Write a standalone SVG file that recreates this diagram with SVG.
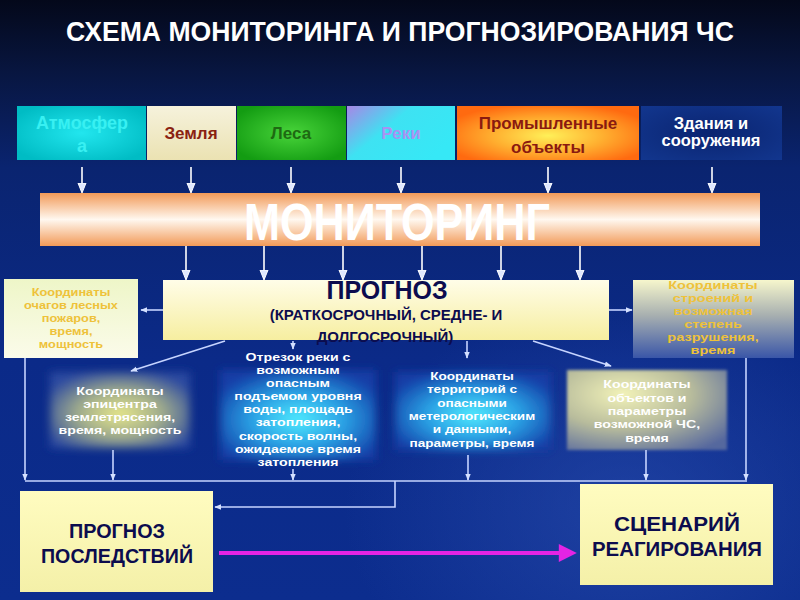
<svg xmlns="http://www.w3.org/2000/svg" width="800" height="600" viewBox="0 0 800 600">
<defs>
<linearGradient id="bg" x1="0" y1="0" x2="0" y2="1">
 <stop offset="0" stop-color="#04081a"/>
 <stop offset="0.12" stop-color="#081640"/>
 <stop offset="0.28" stop-color="#0a2470"/>
 <stop offset="0.6" stop-color="#0b2a88"/>
 <stop offset="1" stop-color="#0c2d8e"/>
</linearGradient>
<radialGradient id="bgglow" cx="0.78" cy="0.85" r="0.35">
 <stop offset="0" stop-color="#2a4eb0" stop-opacity="0.6"/>
 <stop offset="1" stop-color="#2a4eb0" stop-opacity="0"/>
</radialGradient>
<radialGradient id="gAtm" cx="0.5" cy="0.5" r="0.6">
 <stop offset="0" stop-color="#22e6ee"/>
 <stop offset="1" stop-color="#00bcc4"/>
</radialGradient>
<linearGradient id="gEarth" x1="0" y1="0" x2="0" y2="1">
 <stop offset="0" stop-color="#f6f2dc"/>
 <stop offset="1" stop-color="#ebe2b2"/>
</linearGradient>
<radialGradient id="gForest" cx="0.5" cy="0.5" r="0.6">
 <stop offset="0" stop-color="#48d43a"/>
 <stop offset="1" stop-color="#139c12"/>
</radialGradient>
<linearGradient id="gRiver" x1="0" y1="0" x2="1" y2="0.6">
 <stop offset="0" stop-color="#a886e6"/>
 <stop offset="0.45" stop-color="#3ee2f2"/>
 <stop offset="1" stop-color="#36e8f6"/>
</linearGradient>
<radialGradient id="gInd" cx="0.5" cy="0.55" r="0.6">
 <stop offset="0" stop-color="#fff058"/>
 <stop offset="0.5" stop-color="#ffb030"/>
 <stop offset="1" stop-color="#ff6a10"/>
</radialGradient>
<radialGradient id="gBld" cx="0.5" cy="0.5" r="0.7">
 <stop offset="0" stop-color="#0a2470"/>
 <stop offset="1" stop-color="#12368e"/>
</radialGradient>
<linearGradient id="gMon" x1="0" y1="0" x2="0" y2="1">
 <stop offset="0" stop-color="#f29a58"/>
 <stop offset="0.5" stop-color="#fff8f0"/>
 <stop offset="1" stop-color="#f29a58"/>
</linearGradient>
<linearGradient id="gProg" x1="0" y1="0" x2="0" y2="1">
 <stop offset="0" stop-color="#fffde8"/>
 <stop offset="1" stop-color="#f6eea0"/>
</linearGradient>
<linearGradient id="gLeft" x1="0" y1="0" x2="0" y2="1">
 <stop offset="0" stop-color="#eef6c8"/>
 <stop offset="1" stop-color="#fbfbea"/>
</linearGradient>
<linearGradient id="gRight" x1="0" y1="0" x2="0" y2="1">
 <stop offset="0" stop-color="#f6f6cc"/>
 <stop offset="0.45" stop-color="#a8b0b0"/>
 <stop offset="1" stop-color="#3a56a8"/>
</linearGradient>
<radialGradient id="gEpi" cx="0.5" cy="0.55" r="0.6">
 <stop offset="0" stop-color="#e8e88a"/>
 <stop offset="0.5" stop-color="#a0ac8c"/>
 <stop offset="1" stop-color="#2a48a0"/>
</radialGradient>
<radialGradient id="gCyan" cx="0.5" cy="0.55" r="0.6">
 <stop offset="0" stop-color="#50ecff"/>
 <stop offset="0.5" stop-color="#2aa0e4"/>
 <stop offset="1" stop-color="#123ca6"/>
</radialGradient>
<radialGradient id="gObj" cx="0.35" cy="0.3" r="0.85">
 <stop offset="0" stop-color="#f2f2b8"/>
 <stop offset="0.5" stop-color="#b8bc9c"/>
 <stop offset="1" stop-color="#55679e"/>
</radialGradient>
<linearGradient id="gBot" x1="0" y1="0" x2="0" y2="1">
 <stop offset="0" stop-color="#fffcc0"/>
 <stop offset="1" stop-color="#f4f0a8"/>
</linearGradient>
<filter id="soft" x="-20%" y="-20%" width="140%" height="140%"><feGaussianBlur stdDeviation="4"/></filter>
<filter id="soft2" x="-10%" y="-10%" width="120%" height="120%"><feGaussianBlur stdDeviation="1.5"/></filter>
<marker id="ahw" viewBox="0 0 10 10" refX="9" refY="5" markerWidth="10" markerHeight="10" orient="auto" markerUnits="userSpaceOnUse">
 <path d="M0,1 L10,5 L0,9 z" fill="#dfe8ff" stroke="#ffffff" stroke-width="1"/>
</marker>
<marker id="ah" viewBox="0 0 10 10" refX="9" refY="5" markerWidth="7" markerHeight="7" orient="auto" markerUnits="userSpaceOnUse">
 <path d="M0,1 L10,5 L0,9 z" fill="#d4e0ff"/>
</marker>
<marker id="ahm" viewBox="0 0 10 10" refX="9" refY="5" markerWidth="20" markerHeight="18" orient="auto" markerUnits="userSpaceOnUse">
 <path d="M0,0 L10,5 L0,10 z" fill="#e424e4"/>
</marker>
<style>
 .t{font-family:"Liberation Sans",Arial,sans-serif;font-weight:bold;text-anchor:middle}
 .n{font-family:"Liberation Sans Narrow","Liberation Sans",Arial,sans-serif;font-weight:bold;text-anchor:middle}
 .wl{stroke:#ffffff;stroke-width:1.6;fill:none}
 .cl{stroke:#c6d4ff;stroke-width:1.6;fill:none}
 .gold{fill:#eec23a;font-size:11.6px}
 .wh{fill:#ffffff;font-size:11.8px}
 .navy{fill:#0c0c4e}
</style>
</defs>

<rect x="0" y="0" width="800" height="600" fill="url(#bg)"/>
<rect x="0" y="0" width="800" height="600" fill="url(#bgglow)"/>

<text class="n" x="400" y="41" font-size="27" fill="#ffffff" textLength="668" lengthAdjust="spacingAndGlyphs">СХЕМА МОНИТОРИНГА И ПРОГНОЗИРОВАНИЯ ЧС</text>

<g id="n-atm">
 <rect x="17" y="106" width="129" height="54" fill="url(#gAtm)"/>
 <text class="t" x="82" y="129" font-size="18" fill="#38f0f2">Атмосфер</text>
 <text class="t" x="82" y="152" font-size="18" fill="#38f0f2">а</text>
</g>
<g id="n-earth">
 <rect x="147" y="106" width="89" height="54" fill="url(#gEarth)"/>
 <text class="t" x="191" y="139" font-size="17" fill="#8a2212">Земля</text>
</g>
<g id="n-forest">
 <rect x="237" y="106" width="109" height="54" fill="url(#gForest)"/>
 <text class="t" x="291" y="139" font-size="17" fill="#1e6a12">Леса</text>
</g>
<g id="n-rivers">
 <rect x="347" y="106" width="108" height="54" fill="url(#gRiver)"/>
 <text class="t" x="401" y="139" font-size="17" fill="#a892f2">Реки</text>
</g>
<g id="n-industry">
 <rect x="457" y="106" width="182" height="54" fill="url(#gInd)"/>
 <text class="t" x="548" y="129" font-size="17" fill="#8a1a10">Промышленные</text>
 <text class="t" x="548" y="153" font-size="17" fill="#8a1a10">объекты</text>
</g>
<g id="n-buildings">
 <rect x="641" y="106" width="141" height="54" fill="url(#gBld)"/>
 <text class="t" x="711" y="129" font-size="16.5" fill="#ffffff">Здания и</text>
 <text class="t" x="711" y="146" font-size="16.5" fill="#ffffff">сооружения</text>
</g>

<g id="n-monitoring">
 <rect x="40" y="193" width="720" height="53" fill="url(#gMon)"/>
 <text class="n" x="397" y="240" font-size="52" fill="#ffffff" textLength="306" lengthAdjust="spacingAndGlyphs">МОНИТОРИНГ</text>
</g>

<g id="n-prognoz">
 <rect x="163" y="280" width="446" height="60" fill="url(#gProg)"/>
 <text class="t navy" x="387" y="299" font-size="25">ПРОГНОЗ</text>
 <text class="t navy" x="386" y="320" font-size="15">(КРАТКОСРОЧНЫЙ, СРЕДНЕ- И</text>
 <text class="t navy" x="385" y="342" font-size="15">ДОЛГОСРОЧНЫЙ)</text>
</g>

<g id="n-forestfire">
 <rect x="4" y="279" width="134" height="79" fill="url(#gLeft)"/>
 <g transform="translate(71 0) scale(1.1 1)">
  <text class="t gold" x="0" y="296">Координаты</text>
  <text class="t gold" x="0" y="309">очагов лесных</text>
  <text class="t gold" x="0" y="322">пожаров,</text>
  <text class="t gold" x="0" y="335">время,</text>
  <text class="t gold" x="0" y="348">мощность</text>
 </g>
</g>

<g id="n-structures">
 <rect x="633" y="280" width="161" height="78" fill="url(#gRight)"/>
 <g transform="translate(713 0) scale(1.25 1)">
  <text class="t gold" x="0" y="289">Координаты</text>
  <text class="t gold" x="0" y="302">строений и</text>
  <text class="t gold" x="0" y="315">возможная</text>
  <text class="t gold" x="0" y="328">степень</text>
  <text class="t gold" x="0" y="341">разрушения,</text>
  <text class="t gold" x="0" y="354">время</text>
 </g>
</g>

<g id="n-epicenter">
 <rect x="50" y="372" width="140" height="76" fill="url(#gEpi)" filter="url(#soft)"/>
 <g transform="translate(120 0) scale(1.2 1)">
  <text class="t wh" x="0" y="395">Координаты</text>
  <text class="t wh" x="0" y="408">эпицентра</text>
  <text class="t wh" x="0" y="421">землетрясения,</text>
  <text class="t wh" x="0" y="434">время, мощность</text>
 </g>
</g>

<g id="n-river">
 <rect x="220" y="370" width="156" height="90" fill="url(#gCyan)" filter="url(#soft)"/>
 <g transform="translate(298 0) scale(1.2 1)">
  <text class="t wh" x="0" y="361">Отрезок реки с</text>
  <text class="t wh" x="0" y="374">возможным</text>
  <text class="t wh" x="0" y="387">опасным</text>
  <text class="t wh" x="0" y="400">подъемом уровня</text>
  <text class="t wh" x="0" y="413">воды, площадь</text>
  <text class="t wh" x="0" y="426">затопления,</text>
  <text class="t wh" x="0" y="440">скорость волны,</text>
  <text class="t wh" x="0" y="453">ожидаемое время</text>
  <text class="t wh" x="0" y="466">затопления</text>
 </g>
</g>

<g id="n-territory">
 <rect x="395" y="372" width="156" height="78" fill="url(#gCyan)" filter="url(#soft)"/>
 <g transform="translate(472 0) scale(1.15 1)">
  <text class="t wh" x="0" y="380">Координаты</text>
  <text class="t wh" x="0" y="393">территорий с</text>
  <text class="t wh" x="0" y="407">опасными</text>
  <text class="t wh" x="0" y="420">метерологическим</text>
  <text class="t wh" x="0" y="433">и данными,</text>
  <text class="t wh" x="0" y="447">параметры, время</text>
 </g>
</g>

<g id="n-objects">
 <rect x="567" y="370" width="160" height="80" fill="url(#gObj)" filter="url(#soft2)"/>
 <g transform="translate(647 0) scale(1.2 1)">
  <text class="t wh" x="0" y="388">Координаты</text>
  <text class="t wh" x="0" y="402">объектов и</text>
  <text class="t wh" x="0" y="415">параметры</text>
  <text class="t wh" x="0" y="428">возможной ЧС,</text>
  <text class="t wh" x="0" y="442">время</text>
 </g>
</g>

<g id="n-consequences">
 <rect x="20" y="491" width="193" height="101" fill="url(#gBot)"/>
 <text class="n navy" x="117" y="538" font-size="21" textLength="96" lengthAdjust="spacingAndGlyphs">ПРОГНОЗ</text>
 <text class="n navy" x="117" y="563" font-size="21" textLength="152" lengthAdjust="spacingAndGlyphs">ПОСЛЕДСТВИЙ</text>
</g>

<g id="n-scenario">
 <rect x="580" y="484" width="193" height="101" fill="url(#gBot)"/>
 <text class="n navy" x="677" y="531" font-size="21" textLength="126" lengthAdjust="spacingAndGlyphs">СЦЕНАРИЙ</text>
 <text class="n navy" x="677" y="556" font-size="21" textLength="170" lengthAdjust="spacingAndGlyphs">РЕАГИРОВАНИЯ</text>
</g>

<g id="connectors">
 <line class="wl" x1="82" y1="167" x2="82" y2="192" marker-end="url(#ahw)"/>
 <line class="wl" x1="191" y1="167" x2="191" y2="192" marker-end="url(#ahw)"/>
 <line class="wl" x1="291" y1="167" x2="291" y2="192" marker-end="url(#ahw)"/>
 <line class="wl" x1="401" y1="167" x2="401" y2="192" marker-end="url(#ahw)"/>
 <line class="wl" x1="548" y1="167" x2="548" y2="192" marker-end="url(#ahw)"/>
 <line class="wl" x1="712" y1="167" x2="712" y2="192" marker-end="url(#ahw)"/>

 <line class="wl" x1="186" y1="246" x2="186" y2="279" marker-end="url(#ahw)"/>
 <line class="wl" x1="264" y1="246" x2="264" y2="279" marker-end="url(#ahw)"/>
 <line class="wl" x1="343" y1="246" x2="343" y2="279" marker-end="url(#ahw)"/>
 <line class="wl" x1="422" y1="246" x2="422" y2="279" marker-end="url(#ahw)"/>
 <line class="wl" x1="501" y1="246" x2="501" y2="279" marker-end="url(#ahw)"/>
 <line class="wl" x1="580" y1="246" x2="580" y2="279" marker-end="url(#ahw)"/>

 <line class="cl" x1="163" y1="310" x2="141" y2="310" marker-end="url(#ah)"/>
 <line class="cl" x1="609" y1="310" x2="632" y2="310" marker-end="url(#ah)"/>

 <line class="cl" x1="225" y1="341" x2="131" y2="371" marker-end="url(#ah)"/>
 <line class="cl" x1="293" y1="341" x2="293" y2="349" marker-end="url(#ah)"/>
 <line class="cl" x1="467" y1="341" x2="467" y2="358" marker-end="url(#ah)"/>
 <line class="cl" x1="533" y1="341" x2="611" y2="366" marker-end="url(#ah)"/>

 <line class="cl" x1="25" y1="358" x2="25" y2="480" marker-end="url(#ah)"/>
 <line class="cl" x1="113" y1="450" x2="113" y2="480" marker-end="url(#ah)"/>
 <line class="cl" x1="293" y1="469" x2="293" y2="480" marker-end="url(#ah)"/>
 <line class="cl" x1="468" y1="455" x2="468" y2="480" marker-end="url(#ah)"/>
 <line class="cl" x1="646" y1="450" x2="646" y2="480" marker-end="url(#ah)"/>
 <line class="cl" x1="746" y1="358" x2="746" y2="480" marker-end="url(#ah)"/>
 <line class="cl" x1="25" y1="481" x2="747" y2="481"/>
 <polyline class="cl" points="395,481 395,507 215,507" marker-end="url(#ah)"/>

 <line x1="219" y1="553" x2="566" y2="553" stroke="#e424e4" stroke-width="4"/>
 <line x1="560" y1="553" x2="575" y2="553" stroke="none" marker-end="url(#ahm)"/>
</g>
</svg>
